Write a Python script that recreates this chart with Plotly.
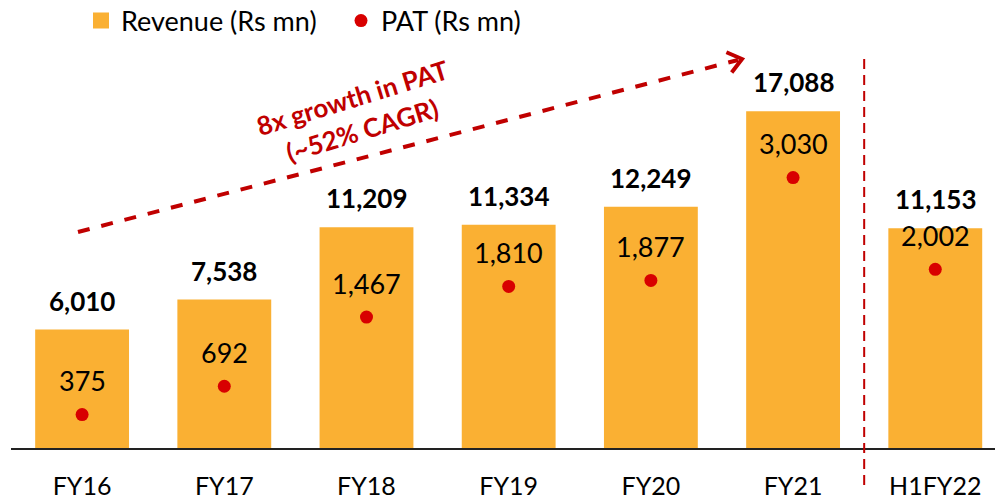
import numpy as np
import plotly.graph_objects as go

categories = ["FY16", "FY17", "FY18", "FY19", "FY20", "FY21", "H1FY22"]
revenue = [6010, 7538, 11209, 11334, 12249, 17088, 11153]
pat = [375, 692, 1467, 1810, 1877, 3030, 2002]

FONT = "Lato"
W, H = 995, 502
ML, MR, MT, MB = 11, 0, 40, 54
PW, PH = W - ML - MR, H - MT - MB

def px2paper(px, py):
    return (px - ML) / PW, (H - MB - py) / PH

BAR_COLOR = "#FAB033"
DOT_COLOR = "#D80000"
RED = "#C00000"

fig = go.Figure()
fig.add_trace(go.Bar(
    x=list(range(len(categories))), y=revenue, name="Revenue (Rs mn)",
    marker=dict(color=BAR_COLOR, line=dict(width=0)), width=0.66,
    yaxis="y", hoverinfo="skip", showlegend=False,
))
fig.add_trace(go.Scatter(
    x=[None], y=[None], name="Revenue (Rs mn)", mode="markers",
    marker=dict(color=BAR_COLOR, size=16, symbol="square"), showlegend=True,
))
fig.add_trace(go.Scatter(
    x=list(range(len(categories))), y=pat, name="PAT (Rs mn)", mode="markers",
    marker=dict(color=DOT_COLOR, size=13), yaxis="y2", hoverinfo="skip",
))

annotations = []
for i, v in enumerate(revenue):
    annotations.append(dict(
        x=i, y=v, xref="x", yref="y", text=f"<b>{v:,}</b>", showarrow=False,
        yanchor="middle", yshift=29, font=dict(family=FONT, size=26, color="#000000"),
    ))
for i, v in enumerate(pat):
    annotations.append(dict(
        x=i, y=v, xref="x", yref="y2", text=f"{v:,}", showarrow=False,
        yanchor="middle", yshift=34, font=dict(family=FONT, size=27, color="#000000"),
    ))

tx, ty = px2paper(357, 114)
annotations.append(dict(
    x=tx, y=ty, xref="paper", yref="paper", xanchor="center", yanchor="middle",
    text="<b>8x growth in PAT<br>(~52% CAGR)</b>",
    showarrow=False, textangle=-17, align="center",
    font=dict(family=FONT, size=26, color=RED),
))

shapes = []
x0, y0 = px2paper(78, 232)
x1, y1 = px2paper(738, 60)
shapes.append(dict(type="line", xref="paper", yref="paper", x0=x0, y0=y0, x1=x1, y1=y1,
                   line=dict(color=RED, width=4, dash="dash")))
tip = np.array([742.0, 59.0])
d = np.array([664.0, -173.0]); d /= np.linalg.norm(d)
L = 17
def rot(v, a):
    c, s = np.cos(a), np.sin(a)
    return np.array([c * v[0] - s * v[1], s * v[0] + c * v[1]])
p1 = tip - L * rot(d, np.radians(38))
p2 = tip - L * rot(d, np.radians(-38))
pts = [px2paper(*p1), px2paper(*tip), px2paper(*p2)]
path = "M {} {} L {} {} L {} {}".format(pts[0][0], pts[0][1], pts[1][0], pts[1][1], pts[2][0], pts[2][1])
shapes.append(dict(type="path", xref="paper", yref="paper", path=path,
                   line=dict(color=RED, width=4)))
_, vy0 = px2paper(0, 485)
_, vy1 = px2paper(0, 55)
shapes.append(dict(type="line", xref="x", yref="paper", x0=5.5, x1=5.5, y0=vy0, y1=vy1,
                   line=dict(color=RED, width=2, dash="10px,6px")))

fig.update_layout(
    width=W, height=H, margin=dict(l=ML, r=MR, t=MT, b=MB, autoexpand=False),
    plot_bgcolor="white", paper_bgcolor="white",
    font=dict(family=FONT, size=27, color="#000000"),
    showlegend=True,
    legend=dict(orientation="h", x=81 / W, xanchor="left", xref="container",
                y=1 - 21 / H, yanchor="middle", yref="container",
                font=dict(family=FONT, size=27, color="#000000"), itemwidth=30,
                entrywidth=215, entrywidthmode="pixels",
                itemsizing="trace", bgcolor="rgba(0,0,0,0)"),
    xaxis=dict(tickmode="array", tickvals=list(range(len(categories))), ticktext=categories,
               range=[-0.5, 6.42], showgrid=False, zeroline=False, showline=True,
               linecolor="#222222", linewidth=1.5, ticks="", ticklabelstandoff=15,
               tickfont=dict(family=FONT, size=25, color="#000000")),
    yaxis=dict(range=[0, 20710], visible=False, showgrid=False),
    yaxis2=dict(range=[0, 4571], overlaying="y", visible=False, showgrid=False),
    annotations=annotations, shapes=shapes,
)

fig.write_html("out.html", config={"displayModeBar": False},
               post_script="document.body.style.margin='0px';document.body.style.overflow='hidden';")
